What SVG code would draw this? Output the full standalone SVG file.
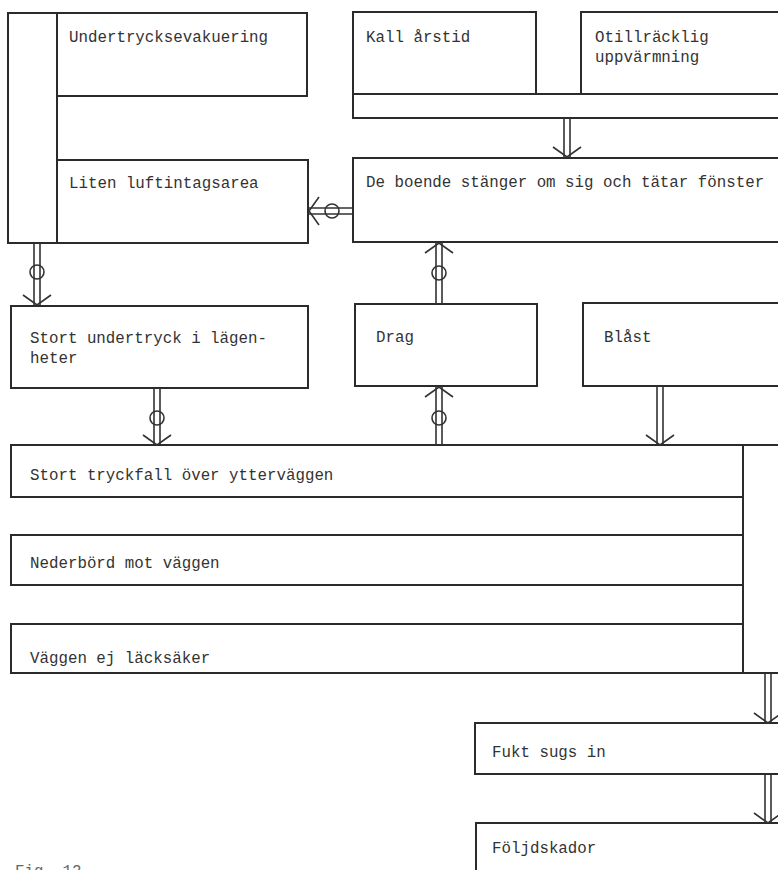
<svg xmlns="http://www.w3.org/2000/svg" width="778" height="870" viewBox="0 0 778 870">
  <style>
    .box { fill: #ffffff; stroke: #2b2b2b; stroke-width: 2; }
    .ln { fill: none; stroke: #2b2b2b; stroke-width: 1.8; }
    .rail { fill: none; stroke: #333333; stroke-width: 1.6; }
    .ring { fill: none; stroke: #333333; stroke-width: 1.6; }
    .head { fill: none; stroke: #333333; stroke-width: 1.6; stroke-linejoin: miter; }
    text { font-family: "Liberation Mono", "DejaVu Sans Mono", monospace; font-size: 15.8px; fill: #333333; }
    .cap { fill: #666666; }
  </style>
  <defs>
    <!-- open V arrowhead, tip at origin, pointing down -->
    <path id="vhead" class="head" d="M-14,-10 L0,0 L14,-10"/>
  </defs>

  <rect width="778" height="870" fill="#ffffff"/>

  <!-- Undertrycksevakuering / Liten luftintagsarea with shared left bar -->
  <g id="evakuering">
    <rect class="box" x="8" y="13" width="49" height="230"/>
    <rect class="box" x="57" y="13" width="250" height="83"/>
    <text x="69" y="42">Undertrycksevakuering</text>
  </g>
  <g id="luftintag">
    <rect class="box" x="57" y="160" width="251" height="83"/>
    <text x="69" y="188">Liten luftintagsarea</text>
  </g>

  <!-- Kall årstid + Otillräcklig uppvärmning joined by a bar -->
  <g id="kall-arstid">
    <rect class="box" x="353" y="94" width="440" height="24"/>
    <rect class="box" x="353" y="12" width="183" height="82"/>
    <text x="366" y="42">Kall årstid</text>
  </g>
  <g id="uppvarmning">
    <rect class="box" x="581" y="12" width="210" height="82"/>
    <text x="595" y="42">Otillräcklig</text>
    <text x="595" y="62">uppvärmning</text>
  </g>

  <g id="boende">
    <rect class="box" x="353" y="158" width="440" height="84"/>
    <text x="366" y="187">De boende stänger om sig och tätar fönster</text>
  </g>

  <g id="undertryck">
    <rect class="box" x="11" y="306" width="297" height="82"/>
    <text x="30" y="343">Stort undertryck i lägen-</text>
    <text x="30" y="363">heter</text>
  </g>
  <g id="drag">
    <rect class="box" x="355" y="304" width="182" height="82"/>
    <text x="376" y="342">Drag</text>
  </g>
  <g id="blast">
    <rect class="box" x="583" y="303" width="210" height="83"/>
    <text x="604" y="342">Blåst</text>
  </g>

  <!-- three wall conditions joined by a bar on the right -->
  <g id="vaggvillkor">
    <rect class="box" x="743" y="445" width="50" height="228"/>
  </g>
  <g id="tryckfall">
    <rect class="box" x="11" y="445" width="732" height="52"/>
    <text x="30" y="480">Stort tryckfall över ytterväggen</text>
  </g>
  <g id="nederbord">
    <rect class="box" x="11" y="535" width="732" height="50"/>
    <text x="30" y="568">Nederbörd mot väggen</text>
  </g>
  <g id="lacksaker">
    <rect class="box" x="11" y="624" width="732" height="49"/>
    <text x="30" y="663">Väggen ej läcksäker</text>
  </g>

  <g id="fukt">
    <rect class="box" x="475" y="723" width="320" height="51"/>
    <text x="492" y="757">Fukt sugs in</text>
  </g>
  <g id="foljdskador">
    <rect class="box" x="476" y="823" width="320" height="70"/>
    <text x="492" y="853">Följdskador</text>
  </g>

  <text class="cap" x="15" y="876">Fig. 12</text>

  <!-- connectors: double rails, optional ring, open arrowhead -->
  <g id="connectors">
    <!-- bar -> De boende -->
    <path class="rail" d="M564,118 V157 M570,118 V157"/>
    <use href="#vhead" transform="translate(567,157)"/>

    <!-- De boende -> Liten luftintagsarea -->
    <path class="rail" d="M353,208 H309 M353,214 H309"/>
    <circle class="ring" cx="332" cy="211" r="7"/>
    <use href="#vhead" transform="translate(309,211) rotate(90)"/>

    <!-- left bar -> Stort undertryck -->
    <path class="rail" d="M34,243 V305 M40,243 V305"/>
    <circle class="ring" cx="37" cy="272" r="7"/>
    <use href="#vhead" transform="translate(37,305)"/>

    <!-- Stort undertryck -> Stort tryckfall -->
    <path class="rail" d="M154,388 V445 M160,388 V445"/>
    <circle class="ring" cx="157" cy="418" r="7"/>
    <use href="#vhead" transform="translate(157,445)"/>

    <!-- Drag -> De boende -->
    <path class="rail" d="M436,304 V243 M442,304 V243"/>
    <circle class="ring" cx="439" cy="273" r="7"/>
    <use href="#vhead" transform="translate(439,243) rotate(180)"/>

    <!-- Stort tryckfall -> Drag -->
    <path class="rail" d="M436,445 V387 M442,445 V387"/>
    <circle class="ring" cx="439" cy="418" r="7"/>
    <use href="#vhead" transform="translate(439,387) rotate(180)"/>

    <!-- Blåst -> Stort tryckfall -->
    <path class="rail" d="M657,386 V445 M663,386 V445"/>
    <use href="#vhead" transform="translate(660,445)"/>

    <!-- wall conditions -> Fukt sugs in -->
    <path class="rail" d="M765,673 V723 M771,673 V723"/>
    <use href="#vhead" transform="translate(768,723)"/>

    <!-- Fukt sugs in -> Följdskador -->
    <path class="rail" d="M765,774 V823 M771,774 V823"/>
    <use href="#vhead" transform="translate(768,823)"/>
  </g>
</svg>
